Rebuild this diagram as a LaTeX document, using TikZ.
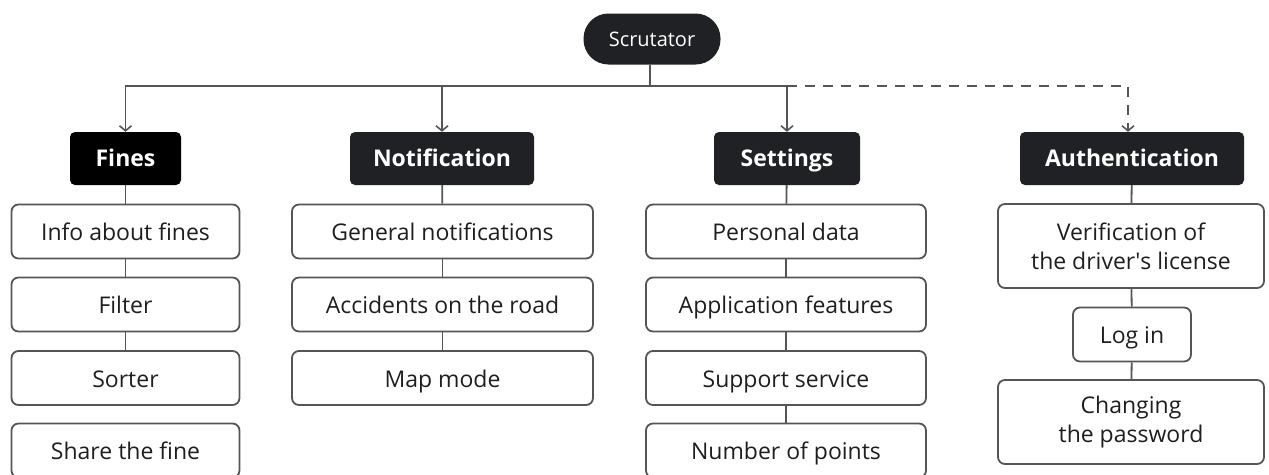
\documentclass[tikz,border=0pt]{standalone}
\usepackage{fontspec}
\setmainfont{Open Sans}
\usetikzlibrary{arrows.meta}

\definecolor{boxdark}{HTML}{202124}
\definecolor{edgegray}{HTML}{555555}
\definecolor{textdark}{HTML}{1E1E1E}

\begin{document}
\begin{tikzpicture}[x=1pt,y=-1pt]
        \tikzstyle{every node}=[font=\fontsize{23}{29}\selectfont]
        \tikzstyle{root}=[rounded corners=25pt, fill=boxdark, text=white,
            minimum width=137pt, minimum height=51pt, inner sep=0pt,
            text height=17pt, text depth=3pt, font=\fontsize{20}{24}\selectfont]
        \tikzstyle{section}=[rounded corners=5pt, fill=boxdark, text=white,
            minimum height=53pt, inner sep=0pt, text height=19pt, text depth=3pt,
            font=\fontsize{23}{29}\selectfont\bfseries]
        \tikzstyle{item}=[rounded corners=7pt, draw=edgegray, line width=1.8pt, text=textdark,
            minimum height=54pt, inner sep=0pt, align=center, text height=20pt, text depth=2pt]
        \tikzstyle{twoline}=[item, minimum height=84pt, text height=, text depth=]
        \tikzstyle{link}=[draw=edgegray, line width=1.8pt]
        \tikzstyle{feed}=[link, -{Straight Barb[length=5pt,width=12pt,line width=1.6pt]}]

        \useasboundingbox (0,0) rectangle (1269,474);

        % root and the four sections
        \node[root] (scrutator) at (652,39) {Scrutator};

        \node[section, minimum width=111pt, fill=black] (fines) at (125.5,158.5) {Fines};
        \node[section, minimum width=184pt] (notification) at (442,158.5) {Notification};
        \node[section, minimum width=146pt] (settings) at (787,158.5) {Settings};
        \node[section, minimum width=224pt] (authentication) at (1132,158.5) {Authentication};

        % fines
        \node[item, minimum width=228pt] (infofines) at (125.5,231.5) {Info about fines};
        \node[item, minimum width=228pt] (filter) at (125.5,304.5) {Filter};
        \node[item, minimum width=228pt] (sorter) at (125.5,378) {Sorter};
        \node[item, minimum width=228pt] (sharefine) at (125.5,450.5) {Share the fine};

        % notification
        \node[item, minimum width=301pt] (general) at (442.5,231.5) {General notifications};
        \node[item, minimum width=301pt] (accidents) at (442.5,304.5) {Accidents on the road};
        \node[item, minimum width=301pt] (mapmode) at (442.5,378) {Map mode};

        % settings
        \node[item, minimum width=280pt] (personal) at (786,231.5) {Personal data};
        \node[item, minimum width=280pt] (features) at (786,304.5) {Application features};
        \node[item, minimum width=280pt] (support) at (786,378) {Support service};
        \node[item, minimum width=280pt] (points) at (786,450.5) {Number of points};

        % authentication
        \node[twoline, minimum width=266pt] (verification) at (1131,246) {Verification of\\the driver\textquotesingle s license};
        \node[item, minimum width=118pt] (login) at (1132,334.5) {Log in};
        \node[twoline, minimum width=266pt] (password) at (1131,422) {Changing\\the password};

        % bus from the root
        \coordinate (bus) at (650,86);
        \draw[link] (scrutator.south -| bus) -- (bus);
        \draw[feed] (bus) -| (fines.north);
        \draw[feed] (bus) -| (notification.north);
        \draw[feed] (bus) -| (settings.north);
        \draw[feed, dashed, dash pattern=on 10pt off 8pt] (settings.north |- bus) -| ([xshift=-4pt]authentication.north);

        % links inside the columns
        \draw[link] (fines) -- (infofines);
        \draw[link] (infofines) -- (filter);
        \draw[link] (filter) -- (sorter);

        \draw[link] (notification) -- (general);
        \draw[link] (general) -- (accidents);
        \draw[link] (accidents) -- (mapmode);

        \draw[link] (settings) -- (personal);
        \draw[link] (personal) -- (features);
        \draw[link] (features) -- (support);
        \draw[link] (support) -- (points);

        \draw[link] (authentication) -- (verification);
        \draw[link] (verification) -- (login);
        \draw[link] (login) -- (password);
\end{tikzpicture}
\end{document}
